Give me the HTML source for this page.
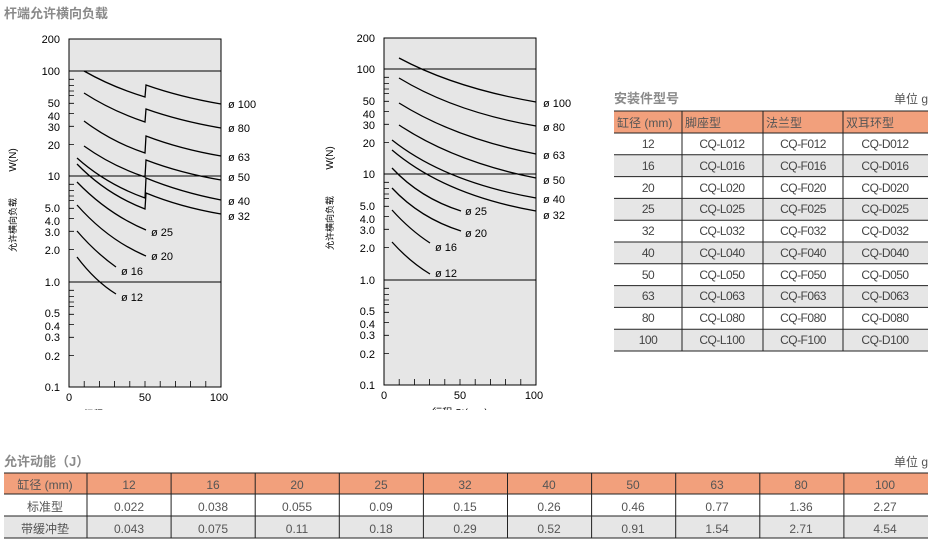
<!DOCTYPE html>
<html><head><meta charset="utf-8"><style>
body{margin:0;background:#fff;width:928px;height:543px;overflow:hidden}
svg text{font-family:"Liberation Sans","Noto Sans CJK SC",sans-serif}
</style></head><body>
<svg width="928" height="543" xmlns="http://www.w3.org/2000/svg">
<text x="4" y="18" font-size="13" font-weight="bold" fill="#8a8a8a">杆端允许横向负载</text>

<!-- LEFT CHART -->
<g id="L">
<rect x="69" y="39" width="152" height="348" fill="#e6e6e6" stroke="#000" stroke-width="1"/>
<g stroke="#000" stroke-width="1">
<line x1="69" y1="71" x2="221" y2="71"/><line x1="69" y1="176" x2="221" y2="176"/><line x1="69" y1="282" x2="221" y2="282"/>
</g>
<g stroke="#000" stroke-width="0.8">
<path d="M69 79.3h5M69 85.6h5M69 91h5M69 95.6h5M69 103.3h5M69 113.5h5M69 126.3h5M69 144.6h5
M69 184.3h5M69 190.6h5M69 196h5M69 200.6h5M69 208.3h5M69 218.5h5M69 231.3h5M69 249.6h5
M69 290.3h5M69 296.6h5M69 302h5M69 306.6h5M69 314.3h5M69 324.5h5M69 337.3h5M69 355.6h5"/>
<path d="M84.2 387v-6M99.4 387v-6M114.6 387v-6M129.8 387v-6M145 387v-6M160.2 387v-6M175.4 387v-6M190.6 387v-6M205.8 387v-6"/>
</g>
<g fill="none" stroke="#000" stroke-width="1.3">
<path d="M84 71 Q112 87 145 97 L146 85 Q180 97 221 104"/>
<path d="M84 93 Q112 111 145 122 L146 109 Q180 121 221 128"/>
<path d="M84 121 Q112 142 145 153 L146 136 Q180 149 221 156"/>
<path d="M84 146 Q112 166 145 177 L146 160 Q180 173 221 180"/>
<path d="M77 158 Q106 184 145 198 L146 178 Q180 192 221 200"/>
<path d="M77 164 Q106 194 145 209 L146 193 Q180 207 221 214"/>
<path d="M77 182 Q108 214 146 230"/>
<path d="M77 205 Q108 240 146 256"/>
<path d="M77 231 Q95 252 116 267"/>
<path d="M77 257 Q95 281 116 294"/>
</g>
<g font-size="11" fill="#000" text-anchor="end">
<text x="60" y="43">200</text><text x="60" y="75">100</text><text x="60" y="107">50</text><text x="60" y="120">40</text><text x="60" y="131">30</text><text x="60" y="149">20</text><text x="60" y="180">10</text><text x="60" y="212">5.0</text><text x="60" y="225">4.0</text><text x="60" y="236">3.0</text><text x="60" y="254">2.0</text><text x="60" y="286">1.0</text><text x="60" y="317">0.5</text><text x="60" y="330">0.4</text><text x="60" y="341">0.3</text><text x="60" y="360">0.2</text><text x="60" y="391">0.1</text>
</g>
<g font-size="11" fill="#000" text-anchor="middle"><text x="69" y="401">0</text><text x="145" y="401">50</text><text x="219" y="401">100</text></g>
<g font-size="11" fill="#000">
<text x="228" y="108">ø 100</text><text x="228" y="132">ø 80</text><text x="228" y="161">ø 63</text><text x="228" y="181">ø 50</text><text x="228" y="205">ø 40</text><text x="228" y="220">ø 32</text>
<text x="151" y="236">ø 25</text><text x="151" y="260">ø 20</text><text x="121" y="275">ø 16</text><text x="121" y="301">ø 12</text>
</g>
<text x="111" y="418" font-size="10" text-anchor="middle">行程  St(mm)</text>
<text transform="translate(16,160) rotate(-90)" font-size="10" text-anchor="middle">W(N)</text>
<text transform="translate(16,225) rotate(-90)" font-size="9" text-anchor="middle">允许横向负载</text>
</g>

<!-- RIGHT CHART -->
<g>
<rect x="384" y="38" width="152" height="347" fill="#e6e6e6" stroke="#000" stroke-width="1"/>
<g stroke="#000" stroke-width="1">
<line x1="384" y1="69" x2="536" y2="69"/><line x1="384" y1="174" x2="536" y2="174"/><line x1="384" y1="280" x2="536" y2="280"/>
</g>
<g stroke="#000" stroke-width="0.8">
<path d="M384 77.3h5M384 83.6h5M384 89h5M384 93.6h5M384 101.3h5M384 111.5h5M384 124.3h5M384 142.6h5
M384 182.3h5M384 188.6h5M384 194h5M384 198.6h5M384 206.3h5M384 216.5h5M384 229.3h5M384 247.6h5
M384 288.3h5M384 294.6h5M384 300h5M384 304.6h5M384 312.3h5M384 322.5h5M384 335.3h5M384 353.6h5"/>
<path d="M399.2 385v-6M414.4 385v-6M429.6 385v-6M444.8 385v-6M460 385v-6M475.2 385v-6M490.4 385v-6M505.6 385v-6M520.8 385v-6"/>
</g>
<g fill="none" stroke="#000" stroke-width="1.3">
<path d="M399 58 Q455 88 536 102"/>
<path d="M399 78 Q455 112 536 126"/>
<path d="M399 103 Q455 138 536 154"/>
<path d="M399 125 Q455 162 536 178"/>
<path d="M392 140 Q445 182 536 198"/>
<path d="M392 150 Q445 195 536 211"/>
<path d="M392 168 Q420 198 461 211"/>
<path d="M392 188 Q420 218 461 231"/>
<path d="M392 210 Q410 230 430 243"/>
<path d="M392 242 Q410 262 430 274"/>
</g>
<g font-size="11" fill="#000" text-anchor="end">
<text x="375" y="42">200</text><text x="375" y="73">100</text><text x="375" y="105">50</text><text x="375" y="118">40</text><text x="375" y="129">30</text><text x="375" y="147">20</text><text x="375" y="178">10</text><text x="375" y="210">5.0</text><text x="375" y="223">4.0</text><text x="375" y="234">3.0</text><text x="375" y="252">2.0</text><text x="375" y="284">1.0</text><text x="375" y="315">0.5</text><text x="375" y="328">0.4</text><text x="375" y="339">0.3</text><text x="375" y="358">0.2</text><text x="375" y="389">0.1</text>
</g>
<g font-size="11" fill="#000" text-anchor="middle"><text x="384" y="399">0</text><text x="460" y="399">50</text><text x="534" y="399">100</text></g>
<g font-size="11" fill="#000">
<text x="543" y="107">ø 100</text><text x="543" y="131">ø 80</text><text x="543" y="159">ø 63</text><text x="543" y="184">ø 50</text><text x="543" y="203">ø 40</text><text x="543" y="219">ø 32</text>
<text x="465" y="215">ø 25</text><text x="465" y="237">ø 20</text><text x="435" y="251">ø 16</text><text x="435" y="277">ø 12</text>
</g>
<text x="460" y="416" font-size="10" text-anchor="middle">行程  St(mm)</text>
<text transform="translate(333,158) rotate(-90)" font-size="10" text-anchor="middle">W(N)</text>
<text transform="translate(333,223) rotate(-90)" font-size="9" text-anchor="middle">允许横向负载</text>
</g>
<rect x="0" y="410" width="600" height="20" fill="#fff"/>
<text x="458" y="418" font-size="10" text-anchor="middle" fill="#000" clip-path="inset(0 0 0 0)"></text>

<!-- RIGHT TABLE -->
<text x="614" y="103" font-size="13" font-weight="bold" fill="#8a8a8a">安装件型号</text>
<text x="928" y="103" font-size="12" fill="#555" text-anchor="end">单位 g</text>
<rect x="614" y="111" width="314" height="22" fill="#f2a07c"/>
<g fill="#e6e6e6">
<rect x="614" y="154.8" width="314" height="21.8"/><rect x="614" y="198.4" width="314" height="21.8"/><rect x="614" y="242" width="314" height="21.8"/><rect x="614" y="285.6" width="314" height="21.8"/><rect x="614" y="329.2" width="314" height="21.8"/>
</g>
<g stroke="#222" stroke-width="1">
<path d="M614 111H928M614 133H928M614 154.8H928M614 176.6H928M614 198.4H928M614 220.2H928M614 242H928M614 263.8H928M614 285.6H928M614 307.4H928M614 329.2H928M614 351H928"/>
<path d="M682 111V351M763 111V351M843 111V351"/>
</g>
<g font-size="12" fill="#555">
<text x="617" y="127">缸径 (mm)</text><text x="685" y="127">脚座型</text><text x="766" y="127">法兰型</text><text x="846" y="127">双耳环型</text>
</g>
<g font-size="12" fill="#444" text-anchor="middle" letter-spacing="-0.5">
<text x="648" y="148">12</text><text x="722" y="148">CQ-L012</text><text x="803" y="148">CQ-F012</text><text x="885" y="148">CQ-D012</text>
<text x="648" y="170">16</text><text x="722" y="170">CQ-L016</text><text x="803" y="170">CQ-F016</text><text x="885" y="170">CQ-D016</text>
<text x="648" y="192">20</text><text x="722" y="192">CQ-L020</text><text x="803" y="192">CQ-F020</text><text x="885" y="192">CQ-D020</text>
<text x="648" y="213">25</text><text x="722" y="213">CQ-L025</text><text x="803" y="213">CQ-F025</text><text x="885" y="213">CQ-D025</text>
<text x="648" y="235">32</text><text x="722" y="235">CQ-L032</text><text x="803" y="235">CQ-F032</text><text x="885" y="235">CQ-D032</text>
<text x="648" y="257">40</text><text x="722" y="257">CQ-L040</text><text x="803" y="257">CQ-F040</text><text x="885" y="257">CQ-D040</text>
<text x="648" y="279">50</text><text x="722" y="279">CQ-L050</text><text x="803" y="279">CQ-F050</text><text x="885" y="279">CQ-D050</text>
<text x="648" y="300">63</text><text x="722" y="300">CQ-L063</text><text x="803" y="300">CQ-F063</text><text x="885" y="300">CQ-D063</text>
<text x="648" y="322">80</text><text x="722" y="322">CQ-L080</text><text x="803" y="322">CQ-F080</text><text x="885" y="322">CQ-D080</text>
<text x="648" y="344">100</text><text x="722" y="344">CQ-L100</text><text x="803" y="344">CQ-F100</text><text x="885" y="344">CQ-D100</text>
</g>

<!-- BOTTOM TABLE -->
<text x="4" y="466" font-size="13" font-weight="bold" fill="#8a8a8a">允许动能（J）</text>
<text x="928" y="466" font-size="12" fill="#555" text-anchor="end">单位 g</text>
<rect x="4" y="473" width="924" height="21" fill="#f2a07c"/>
<rect x="4" y="516" width="924" height="22" fill="#e6e6e6"/>
<g stroke="#222" stroke-width="1">
<path d="M4 473H928M4 494H928M4 516H928M4 538H928"/>
<path d="M87 473V538M171.1 473V538M255.2 473V538M339.3 473V538M423.4 473V538M507.5 473V538M591.6 473V538M675.7 473V538M759.8 473V538M843.9 473V538"/>
</g>
<g font-size="12" fill="#555" text-anchor="middle">
<text x="45" y="489">缸径 (mm)</text><text x="45" y="511">标准型</text><text x="45" y="533">带缓冲垫</text>
</g>
<g font-size="12" fill="#555" text-anchor="middle">
<text x="129" y="489">12</text><text x="213" y="489">16</text><text x="297" y="489">20</text><text x="381" y="489">25</text><text x="465" y="489">32</text><text x="549" y="489">40</text><text x="633" y="489">50</text><text x="717" y="489">63</text><text x="801" y="489">80</text><text x="885" y="489">100</text>
<text x="129" y="511">0.022</text><text x="213" y="511">0.038</text><text x="297" y="511">0.055</text><text x="381" y="511">0.09</text><text x="465" y="511">0.15</text><text x="549" y="511">0.26</text><text x="633" y="511">0.46</text><text x="717" y="511">0.77</text><text x="801" y="511">1.36</text><text x="885" y="511">2.27</text>
<text x="129" y="533">0.043</text><text x="213" y="533">0.075</text><text x="297" y="533">0.11</text><text x="381" y="533">0.18</text><text x="465" y="533">0.29</text><text x="549" y="533">0.52</text><text x="633" y="533">0.91</text><text x="717" y="533">1.54</text><text x="801" y="533">2.71</text><text x="885" y="533">4.54</text>
</g>
</svg>
</body></html>
